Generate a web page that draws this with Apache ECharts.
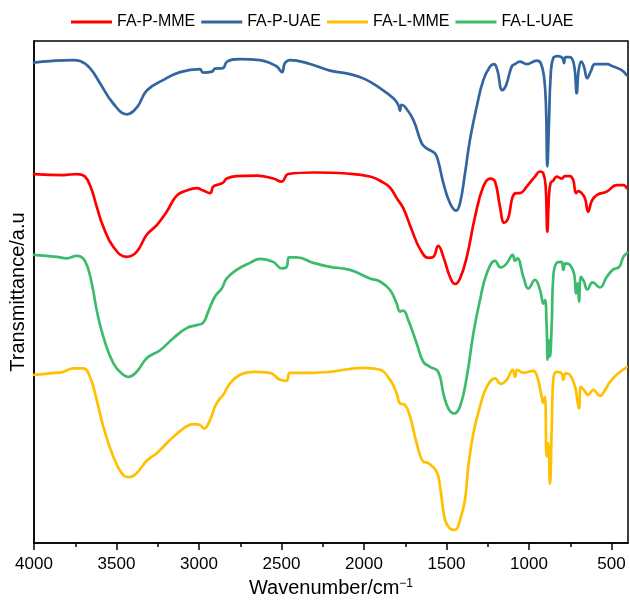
<!DOCTYPE html>
<html>
<head>
<meta charset="utf-8">
<title>FTIR spectra</title>
<script src="https://cdn.jsdelivr.net/npm/echarts@6/dist/echarts.min.js"></script>
<style>
  html, body { margin: 0; padding: 0; background: #fff; }
  #chart { width: 630px; height: 603px; }
</style>
</head>
<body>
<div id="chart"></div>
<script>
// FTIR spectra (offset transmittance, arbitrary units) vs. wavenumber (cm-1)

const seriesNames = ['FA-P-MME', 'FA-P-UAE', 'FA-L-MME', 'FA-L-UAE'];
const seriesColors = ['#FF0000', '#33659E', '#FFC000', '#3DBB6C'];

const xTickLabels = [4000, 3500, 3000, 2500, 2000, 1500, 1000, 500];
const xMinorTicks = [3750, 3250, 2750, 2250, 1750, 1250, 750];

// FA-P-MME
const wnPMME = [4000, 3822, 3741, 3691, 3650, 3620, 3580, 3519, 3438, 3378, 3317, 3256, 3196, 3135, 3075, 3014, 2974, 2933, 2913, 2873, 2853, 2832, 2772, 2650, 2550, 2499, 2459, 2307, 2105, 1964, 1883, 1842, 1802, 1762, 1711, 1661, 1610, 1580, 1550, 1519, 1479, 1448, 1418, 1377, 1327, 1277, 1236, 1206, 1176, 1150, 1126, 1099, 1075, 1055, 1014, 964, 933, 913, 899, 889, 879, 869, 853, 832, 802, 782, 752, 732, 715, 701, 681, 661, 641, 620, 590, 529, 468, 428, 408];
const tPMME = [73.5, 73.3, 73.5, 73.0, 70.3, 67.0, 63.0, 59.0, 57.0, 58.0, 61.4, 63.3, 66.0, 69.2, 70.2, 70.7, 70.2, 69.7, 71.0, 71.5, 71.8, 72.6, 73.1, 73.2, 72.6, 72.0, 73.5, 73.8, 73.6, 73.0, 71.8, 70.8, 68.7, 66.7, 62.4, 58.6, 56.8, 57.0, 59.2, 57.0, 53.0, 51.6, 52.7, 57.0, 65.0, 71.0, 72.6, 72.0, 67.0, 63.8, 64.7, 69.0, 69.7, 69.7, 71.0, 73.0, 74.0, 73.6, 71.0, 62.0, 69.0, 71.7, 72.2, 73.0, 72.6, 73.1, 73.1, 72.3, 69.7, 70.1, 69.7, 68.7, 66.0, 68.1, 69.3, 70.0, 71.3, 71.3, 70.7];

// FA-P-UAE
const wnPUAE = [4000, 3903, 3764, 3721, 3661, 3600, 3521, 3436, 3376, 3315, 3218, 3115, 2994, 2976, 2921, 2903, 2855, 2830, 2752, 2630, 2570, 2527, 2497, 2479, 2448, 2345, 2206, 2085, 1994, 1903, 1822, 1792, 1782, 1772, 1752, 1701, 1650, 1620, 1570, 1550, 1519, 1479, 1442, 1418, 1388, 1358, 1317, 1277, 1236, 1212, 1192, 1162, 1139, 1105, 1085, 1055, 1014, 953, 929, 909, 897, 889, 879, 869, 853, 823, 796, 788, 778, 752, 727, 711, 699, 683, 667, 647, 626, 600, 529, 489, 438, 408];
const tPUAE = [95.7, 96.0, 96.2, 96.0, 94.6, 91.6, 87.6, 85.4, 86.8, 90.2, 92.2, 93.8, 94.4, 93.7, 93.9, 94.5, 94.6, 95.9, 96.4, 96.2, 95.6, 94.9, 93.8, 95.6, 96.2, 95.6, 94.1, 93.4, 92.4, 90.6, 88.6, 87.3, 86.1, 87.3, 86.9, 84.3, 79.6, 78.6, 77.6, 76.0, 71.7, 67.7, 66.2, 67.7, 73.6, 80.3, 86.9, 92.2, 94.9, 95.4, 94.2, 90.2, 91.2, 94.9, 95.4, 95.9, 95.4, 96.1, 95.6, 92.9, 86.9, 75.0, 83.6, 92.9, 96.6, 97.0, 96.6, 95.6, 96.8, 96.8, 95.2, 89.6, 94.2, 95.9, 94.9, 92.6, 93.9, 95.4, 95.4, 94.9, 94.2, 93.2];

// FA-L-MME
const wnLMME = [4000, 3903, 3822, 3762, 3701, 3661, 3620, 3580, 3519, 3459, 3422, 3378, 3317, 3256, 3176, 3095, 3034, 2994, 2970, 2933, 2903, 2873, 2853, 2812, 2752, 2671, 2570, 2509, 2469, 2448, 2307, 2206, 2004, 1903, 1842, 1802, 1782, 1752, 1721, 1681, 1641, 1610, 1560, 1539, 1509, 1479, 1448, 1418, 1388, 1368, 1337, 1297, 1256, 1206, 1172, 1135, 1099, 1085, 1071, 1034, 974, 950, 923, 913, 903, 893, 883, 873, 862, 853, 832, 802, 792, 778, 752, 721, 707, 697, 685, 667, 641, 610, 570, 539, 509, 459, 408];
const tLMME = [33.5, 33.8, 34.1, 34.8, 34.8, 33.1, 28.5, 23.2, 17.2, 13.5, 13.1, 13.9, 16.4, 17.9, 20.5, 22.8, 23.7, 23.5, 22.8, 24.5, 27.2, 28.8, 29.5, 31.8, 33.5, 34.1, 33.9, 32.5, 32.3, 33.9, 33.9, 34.1, 34.9, 34.5, 32.5, 29.8, 27.8, 27.5, 25.2, 19.9, 16.2, 15.9, 14.2, 11.2, 4.6, 2.9, 2.6, 4.6, 8.6, 15.2, 21.9, 27.2, 31.1, 32.8, 31.7, 32.5, 34.5, 33.1, 34.5, 33.9, 34.3, 33.1, 29.1, 27.9, 29.1, 17.2, 19.9, 11.8, 23.2, 32.5, 34.1, 33.8, 32.5, 33.8, 33.5, 31.1, 28.5, 26.8, 31.1, 30.5, 29.5, 30.5, 29.3, 30.5, 32.1, 33.8, 35.0];

// FA-L-UAE
const wnLUAE = [4000, 3862, 3802, 3741, 3691, 3650, 3620, 3580, 3519, 3459, 3429, 3378, 3317, 3236, 3156, 3075, 3014, 2974, 2944, 2903, 2862, 2832, 2772, 2691, 2630, 2550, 2499, 2469, 2453, 2408, 2307, 2206, 2085, 1964, 1903, 1842, 1802, 1782, 1762, 1732, 1681, 1641, 1600, 1550, 1519, 1489, 1455, 1418, 1377, 1337, 1297, 1256, 1206, 1172, 1135, 1099, 1085, 1071, 1034, 1004, 964, 933, 913, 903, 893, 887, 879, 873, 862, 853, 832, 802, 792, 778, 752, 727, 715, 705, 697, 685, 667, 647, 614, 570, 529, 489, 453, 428, 404];
const tLUAE = [57.4, 57.0, 56.7, 57.2, 56.2, 51.7, 46.4, 41.1, 35.8, 33.5, 33.1, 34.1, 36.8, 38.4, 40.8, 42.8, 43.4, 43.9, 46.1, 49.1, 50.7, 52.7, 54.4, 55.8, 56.6, 56.0, 54.7, 55.0, 56.9, 56.9, 55.8, 55.0, 54.4, 52.7, 52.1, 50.4, 47.7, 46.1, 46.3, 44.4, 39.8, 36.1, 35.1, 34.1, 29.8, 26.8, 25.8, 27.2, 33.1, 41.8, 48.4, 53.7, 56.2, 54.9, 55.7, 57.4, 56.2, 56.7, 53.0, 50.7, 52.4, 50.4, 47.7, 48.4, 43.1, 36.5, 40.4, 37.1, 43.8, 53.0, 55.8, 56.0, 54.4, 55.7, 55.4, 53.7, 49.7, 51.7, 48.1, 53.0, 52.1, 50.5, 51.9, 50.9, 53.0, 54.5, 55.0, 57.0, 57.8];

const spectra = [
  [wnPMME, tPMME],
  [wnPUAE, tPUAE],
  [wnLMME, tLMME],
  [wnLUAE, tLUAE]
];

const FONT = '"Liberation Sans", Arial, Helvetica, sans-serif';

const chart = echarts.init(document.getElementById('chart'), null, { renderer: 'canvas' });

const series = spectra.map(([wn, t], i) => ({
  name: seriesNames[i],
  type: 'line',
  xAxisIndex: 0,
  yAxisIndex: 0,
  data: wn.map((w, k) => [w, t[k]]),
  symbol: 'none',
  showSymbol: false,
  smooth: 0.45,
  lineStyle: { color: seriesColors[i], width: 2.7, cap: 'round', join: 'round' },
  itemStyle: { color: seriesColors[i] },
  emphasis: { disabled: true },
  animation: false
}));

chart.setOption({
  animation: false,
  backgroundColor: '#ffffff',
  grid: {
    left: 34, right: 2, top: 41, bottom: 60,
    show: true,
    borderColor: '#000',
    borderWidth: 1.5,
    backgroundColor: 'transparent'
  },
  legend: {
    data: seriesNames,
    left: 66,
    top: 9,
    icon: 'rect',
    itemWidth: 41,
    itemHeight: 3,
    itemGap: 6,
    textStyle: { fontFamily: FONT, fontSize: 16, color: '#000' }
  },
  xAxis: [
    {
      type: 'value',
      position: 'bottom',
      inverse: true,
      min: 400,
      max: 4000,
      name: 'Wavenumber/cm{sup|\u22121}',
      nameLocation: 'middle',
      nameGap: 35,
      nameTextStyle: {
        fontFamily: FONT, fontSize: 20, color: '#000',
        rich: {
          sup: { fontFamily: FONT, fontSize: 12, color: '#000', verticalAlign: 'top', padding: [0, 0, 8, 0] }
        }
      },
      axisLine: { show: true, lineStyle: { color: '#000', width: 1.5 } },
      axisTick: {
        show: true, inside: false, length: 7,
        customValues: xTickLabels,
        lineStyle: { color: '#000', width: 1.5 }
      },
      axisLabel: {
        show: true, margin: 13,
        customValues: xTickLabels,
        formatter: (v) => String(v),
        fontFamily: FONT, fontSize: 17, color: '#000'
      },
      splitLine: { show: false }
    },
    {
      type: 'value',
      position: 'bottom',
      inverse: true,
      min: 400,
      max: 4000,
      axisLine: { show: false },
      axisTick: {
        show: true, inside: false, length: 4,
        customValues: xMinorTicks,
        lineStyle: { color: '#000', width: 1.5 }
      },
      axisLabel: { show: false },
      splitLine: { show: false }
    }
  ],
  yAxis: {
    type: 'value',
    min: 0,
    max: 100,
    name: 'Transmittance/a.u',
    nameLocation: 'middle',
    nameGap: 6,
    nameTextStyle: { fontFamily: FONT, fontSize: 20, color: '#000' },
    axisLine: { show: true, lineStyle: { color: '#000', width: 1.5 } },
    axisTick: { show: false },
    axisLabel: { show: false },
    splitLine: { show: false }
  },
  series: series
});
</script>
</body>
</html>
